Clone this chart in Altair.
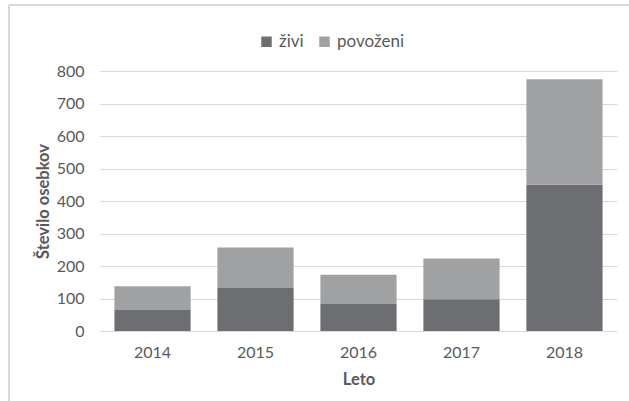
import altair as alt
import pandas as pd

years = ["2014", "2015", "2016", "2017", "2018"]
zivi = [65, 132, 83, 98, 450]
povozeni = [73, 125, 90, 125, 325]
series = ["živi", "povoženi"]
colors = ["#6d6e71", "#a0a1a3"]

rows = []
for i, y in enumerate(years):
    rows.append({"Leto": y, "Skupina": series[0], "Število": zivi[i], "ord": 0})
    rows.append({"Leto": y, "Skupina": series[1], "Število": povozeni[i], "ord": 1})
df = pd.DataFrame(rows)

FONT = "Lato"
TXT = "#595959"

bars = alt.Chart(df).mark_bar().encode(
    x=alt.X("Leto:N", sort=years, title="Leto",
            scale=alt.Scale(paddingInner=0.26, paddingOuter=0.14),
            axis=alt.Axis(labelAngle=0, ticks=False, domain=False,
                          labelPadding=13, titlePadding=11)),
    y=alt.Y("Število:Q", title="Število osebkov",
            scale=alt.Scale(domain=[0, 800]),
            axis=alt.Axis(values=list(range(0, 801, 100)), ticks=False,
                          domain=False, labelPadding=16, titlePadding=5,
                          gridColor="#d9d9d9", gridWidth=1.2)),
    color=alt.Color("Skupina:N", sort=series,
                    scale=alt.Scale(domain=series, range=colors),
                    legend=alt.Legend(title=None, orient="none", direction="horizontal",
                                      legendX=158, legendY=-38,
                                      symbolType="square", symbolSize=110,
                                      symbolStrokeWidth=0, labelFontSize=17,
                                      labelColor=TXT, labelFont=FONT,
                                      columnPadding=12, labelOffset=4)),
    order=alt.Order("ord:Q", sort="ascending"),
)

frame_top = alt.Chart(df).mark_rule(color="#d9d9d9", strokeWidth=1.5).encode(
    x=alt.value(-91), x2=alt.value(540), y=alt.value(-66)
)
frame_left = alt.Chart(df).mark_rule(color="#d9d9d9", strokeWidth=1.5).encode(
    x=alt.value(-91), y=alt.value(-66), y2=alt.value(340)
)

chart = alt.layer(bars, frame_top, frame_left).properties(
    width=517, height=260,
    autosize=alt.AutoSizeParams(type="none"),
    padding={"left": 100, "top": 71, "right": 12, "bottom": 70},
).configure_view(stroke=None).configure_axis(
    labelFont=FONT, labelFontSize=16, labelColor=TXT,
    titleFont=FONT, titleFontSize=16.5, titleColor=TXT, titleFontWeight="bold",
).configure_axisX(grid=False)

chart.save("out.html", embed_options={"renderer": "svg", "actions": False})
